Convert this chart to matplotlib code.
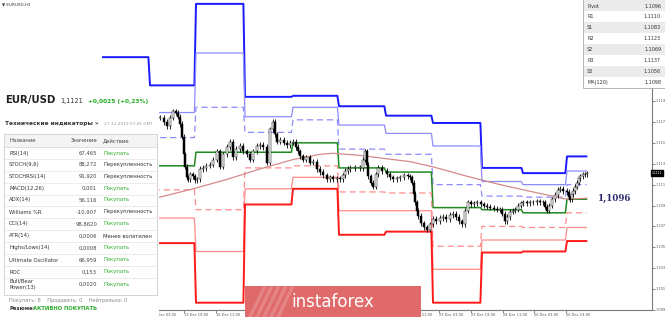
import matplotlib
matplotlib.use('Agg')
import matplotlib.pyplot as plt
from matplotlib.patches import Rectangle
from matplotlib.lines import Line2D
from matplotlib.transforms import ScaledTranslation

# ---------------- data ----------------
# candle closes (bar index, price)
candle_bar = [80, 82, 83.5, 85, 86.5, 88, 89, 90, 91, 92, 92.5, 93.5, 94, 95, 96.5, 97.5, 98.5,
              100, 101.5, 103, 105, 106.5, 108.5, 110, 111.5, 113.5, 115, 116.5, 118, 120, 121.5,
              123.5, 125, 126.5, 128.5, 130, 131.5, 133.5, 135, 136.5, 137.5, 138.5, 140, 142,
              143.5, 145, 146.5, 148, 149, 150, 151.5, 153, 155, 156.5, 158.5, 160, 161.5, 163.5,
              165, 166.5, 168.5, 170, 171.5, 172.5, 174, 175, 177.5, 180, 181.5, 182.5, 183.5, 184,
              185.5, 186.5, 188, 189, 191, 193.5, 195, 196.5, 198.5, 200, 202, 204, 205, 206, 207,
              207.5, 208.5, 209, 210.5, 212, 213.5, 215, 216.5, 218, 220, 221.5, 223, 225, 226.5,
              228, 229.5, 231, 232.5, 234, 235.5, 237, 238.5, 240.5, 242, 243.5, 245, 247, 248.5,
              250, 251, 252.5, 253.5, 255, 256.5, 257.5, 259, 260.5, 261.5, 263.5, 265, 266.5,
              268.5, 270, 271.5, 272.5, 273.5, 274.5, 276, 277.5, 279, 280, 281.5, 283.5, 284.5,
              285, 286, 286.5, 287.5, 288.5, 289.5, 290, 291.5, 292.5, 293.5]
candle_close = [1.1174, 1.1170, 1.1166, 1.1174, 1.1180, 1.1179, 1.1175, 1.1168, 1.1156, 1.1139,
                1.1127, 1.1117, 1.1115, 1.1120, 1.1118, 1.1114, 1.1115, 1.1125, 1.1126, 1.1128,
                1.1129, 1.1134, 1.1142, 1.1127, 1.1139, 1.1146, 1.1151, 1.1136, 1.1144, 1.1147,
                1.1142, 1.1139, 1.1134, 1.1142, 1.1147, 1.1148, 1.1146, 1.1131, 1.1163, 1.1170,
                1.1158, 1.1151, 1.1153, 1.1150, 1.1148, 1.1150, 1.1151, 1.1146, 1.1142, 1.1137,
                1.1134, 1.1136, 1.1131, 1.1132, 1.1125, 1.1122, 1.1119, 1.1115, 1.1117, 1.1115,
                1.1116, 1.1115, 1.1119, 1.1123, 1.1125, 1.1126, 1.1126, 1.1126, 1.1134, 1.1142,
                1.1129, 1.1118, 1.1112, 1.1108, 1.1120, 1.1126, 1.1123, 1.1120, 1.1117, 1.1115,
                1.1116, 1.1117, 1.1119, 1.1118, 1.1117, 1.1112, 1.1101, 1.1093, 1.1085, 1.1080,
                1.1073, 1.1069, 1.1067, 1.1072, 1.1077, 1.1075, 1.1078, 1.1079, 1.1077, 1.1081,
                1.1082, 1.1079, 1.1075, 1.1072, 1.1085, 1.1093, 1.1091, 1.1092, 1.1093, 1.1091,
                1.1090, 1.1089, 1.1088, 1.1087, 1.1086, 1.1086, 1.1082, 1.1075, 1.1079, 1.1084,
                1.1085, 1.1086, 1.1090, 1.1092, 1.1093, 1.1092, 1.1093, 1.1093, 1.1094, 1.1093,
                1.1093, 1.1089, 1.1085, 1.1090, 1.1096, 1.1100, 1.1105, 1.1106, 1.1104, 1.1103,
                1.1098, 1.1096, 1.1101, 1.1104, 1.1108, 1.1112, 1.1116, 1.1118, 1.1120, 1.1120,
                1.1121]

# daily pivot levels: day start bars (last entry = end of drawing)
day_bars = [51.5, 75, 98, 122.5, 146.5, 169.5, 193, 216.5, 241, 261.5, 283.5, 294]
r3_vals = [1.1232, 1.1205, 1.1283, 1.1194, 1.1195, 1.1185, 1.1176, 1.1169, 1.1126, 1.1121, 1.1137]
r2_vals = [1.1189, 1.1179, 1.1236, 1.1175, 1.1184, 1.1167, 1.1159, 1.1147, 1.1113, 1.1110, 1.1123]
r1_vals = [1.1159, 1.1155, 1.1184, 1.1160, 1.1172, 1.1144, 1.1139, 1.1110, 1.1099, 1.1098, 1.1110]
p_vals = [1.1115, 1.1128, 1.1141, 1.1141, 1.1150, 1.1126, 1.1122, 1.1088, 1.1086, 1.1083, 1.1096]
s1_vals = [1.1085, 1.1105, 1.1086, 1.1126, 1.1128, 1.1103, 1.1102, 1.1051, 1.1070, 1.1069, 1.1083]
s2_vals = [1.1041, 1.1078, 1.1046, 1.1106, 1.1117, 1.1085, 1.1085, 1.1029, 1.1057, 1.1057, 1.1069]
s3_vals = [1.1011, 1.1054, 1.0997, 1.1091, 1.1106, 1.1062, 1.1065, 1.0997, 1.1045, 1.1046, 1.1056]

ma_bar = [50, 80, 96.5, 113.5, 130, 146.5, 160, 166.5, 180, 196.5, 205, 216.5, 233.5, 250, 266.5, 283.5, 293.5]
ma_val = [1.1084, 1.1098, 1.1106, 1.1115, 1.1125, 1.1134, 1.1139, 1.1140, 1.1138, 1.1134, 1.1132,
          1.1127, 1.1118, 1.1110, 1.1103, 1.1096, 1.1097]

y_ticks = [1.099, 1.101, 1.103, 1.105, 1.107, 1.109, 1.111, 1.113, 1.115, 1.117, 1.119]
x_tick_bars = [76, 92, 108, 124, 140, 156, 172, 188, 204, 219.5, 235.5, 251.5, 267, 283]
x_tick_labels = ['13 Dec 03:00', '13 Dec 19:00', '16 Dec 11:00', '17 Dec 03:00', '17 Dec 19:00',
                 '18 Dec 11:00', '19 Dec 03:00', '19 Dec 19:00', '20 Dec 11:00', '23 Dec 03:00',
                 '23 Dec 19:00', '24 Dec 11:00', '26 Dec 03:00', '26 Dec 19:00']

pivot_names = ['Pivot', 'R1', 'S1', 'R2', 'S2', 'R3', 'S3', 'MA(120)']
pivot_values = ['1.1096', '1.1110', '1.1083', '1.1123', '1.1069', '1.1137', '1.1056', '1.1098']

ind_names = ['RSI(14)', 'STOCH(9,6)', 'STOCHRSI(14)', 'MACD(12,26)', 'ADX(14)', 'Williams %R',
             'CCI(14)', 'ATR(14)', 'Highs/Lows(14)', 'Ultimate Oscillator', 'ROC', 'Bull/Bear\nPower(13)']
ind_values = ['67,465', '88,272', '91,920', '0,001', '56,116', '-10,907', '98,8620', '0,0006',
              '0,0008', '66,959', '0,153', '0,0020']
ind_actions = ['Покупать', 'Перекупленность', 'Перекупленность', 'Покупать', 'Покупать',
               'Перекупленность', 'Покупать', 'Менее волатилен', 'Покупать', 'Покупать',
               'Покупать', 'Покупать']

# ---------------- figure ----------------
W, H = 665, 317
fig = plt.figure(figsize=(W / 100, H / 100), dpi=100)
fig.patch.set_facecolor('white')


def fx(x):
    return x / W


def fy(y):
    return 1 - y / H


ax = fig.add_axes([0, 7 / H, 652 / W, 310 / H])
ax.set_xlim(0, 326)
ax.set_ylim(1.09911, 1.12867)
ax.set_facecolor('white')
for s in ['top', 'left']:
    ax.spines[s].set_visible(False)
for s in ['right', 'bottom']:
    ax.spines[s].set_color('#7a7a7a')
    ax.spines[s].set_linewidth(0.8)
ax.spines['right'].set_bounds(1.09911, 1.1205)
ax.yaxis.tick_right()
ax.set_yticks(y_ticks)
ax.set_yticklabels([f'{v:.3f}' for v in y_ticks], fontsize=2.5, color='#333333', va='center')
for lab in ax.get_yticklabels():
    lab.set_transform(lab.get_transform() + ScaledTranslation(0, 0.05, fig.dpi_scale_trans))
ax.tick_params(axis='y', length=2, width=0.5, pad=0.6, colors='#555555')
ax.set_xticks(x_tick_bars)
ax.set_xticklabels(x_tick_labels, fontsize=2.6, color='#333333', ha='left')
ax.tick_params(axis='x', length=2, width=0.5, pad=0.5, colors='#555555')


def step_line(vals, **kw):
    xs, ys = [], []
    for i, v in enumerate(vals):
        xs += [day_bars[i], day_bars[i + 1] - 0.8]
        ys += [v, v]
    ax.plot(xs, ys, **kw)


step_line(r3_vals, color='#1a1aff', lw=1.4)
step_line(r2_vals, color='#8c8cff', lw=0.9)
step_line(r1_vals, color='#8c8cff', lw=0.9, ls=(0, (5, 3)))
step_line(p_vals, color='#1f8a1f', lw=1.1)
step_line(s1_vals, color='#ff8c8c', lw=0.9, ls=(0, (5, 3)))
step_line(s2_vals, color='#ff8c8c', lw=0.9)
step_line(s3_vals, color='#ff1a1a', lw=1.4)
ax.plot(ma_bar, ma_val, color='#d48a8a', lw=0.9)

# candles
prev = candle_close[0]
for b, c in zip(candle_bar, candle_close):
    lo, hi = min(prev, c), max(prev, c)
    ax.vlines(b, lo - 0.00025, hi + 0.00025, color='black', lw=0.6, zorder=4)
    up = c >= prev
    ax.add_patch(Rectangle((b - 0.55, lo), 1.1, max(hi - lo, 0.00004),
                           facecolor='white' if up else 'black', edgecolor='black', lw=0.35, zorder=5))
    prev = c

# current price box
ax.text(1.0, candle_close[-1], '1.1121', transform=ax.get_yaxis_transform(), fontsize=2.2,
        color='white', va='center', ha='left',
        bbox=dict(boxstyle='square,pad=0.25', fc='black', ec='black'), zorder=10, clip_on=False)

fig.text(fx(598), fy(198), '1,1096', fontsize=6.2, fontweight='bold', family='DejaVu Serif',
         color='#2b2b6e', va='center', ha='left')

# ---- left panel ----
fig.add_artist(Rectangle((0, 0), fx(159), fy(93), transform=fig.transFigure,
                         facecolor='white', edgecolor='none', zorder=5))
fig.text(fx(2), fy(4), '▼ EURUSD,H1', fontsize=3.0, color='#333333', va='center', zorder=6)
fig.text(fx(5), fy(100), 'EUR/USD', fontsize=7.3, fontweight='bold', color='#222222', va='center', zorder=6)
fig.text(fx(60), fy(101), '1,1121', fontsize=4.8, color='#333333', va='center', zorder=6)
fig.text(fx(88), fy(101), '+0,0025 (+0,23%)', fontsize=4.2, color='#22aa22', fontweight='bold',
         va='center', zorder=6)
fig.text(fx(5), fy(124), 'Технические индикаторы »', fontsize=4.2, fontweight='bold',
         color='#333333', va='center', zorder=6)
fig.text(fx(104), fy(124), '27.12.2019 07:05 GMT', fontsize=3.1, color='#999999', va='center', zorder=6)
fig.add_artist(Rectangle((fx(4), fy(295)), fx(153), (295 - 134) / H, transform=fig.transFigure,
                         facecolor='white', edgecolor='#cccccc', lw=0.6, zorder=6))
fig.add_artist(Rectangle((fx(4), fy(147)), fx(153), 13 / H, transform=fig.transFigure,
                         facecolor='#f4f4f4', edgecolor='#cccccc', lw=0.4, zorder=6))
fig.text(fx(9), fy(141), 'Название', fontsize=3.8, color='#444444', va='center', zorder=7)
fig.text(fx(97), fy(141), 'Значение', fontsize=3.8, color='#444444', va='center', ha='right', zorder=7)
fig.text(fx(103), fy(141), 'Действие', fontsize=3.8, color='#444444', va='center', zorder=7)
row_y = [153, 164.5, 176.5, 188.5, 200, 212, 224, 236, 248, 260, 272, 284.5]
for i, (n, v, a) in enumerate(zip(ind_names, ind_values, ind_actions)):
    y = row_y[i]
    fig.text(fx(9), fy(y), n, fontsize=3.8, color='#333333', va='center', zorder=7, linespacing=1.4)
    fig.text(fx(97), fy(y), v, fontsize=3.8, color='#444444', va='center', ha='right', zorder=7)
    col = '#2aaa2a' if a == 'Покупать' else '#333333'
    fig.text(fx(103), fy(y), a, fontsize=3.8, color=col, va='center', zorder=7)
    if i < len(ind_names) - 1:
        ly = fy(y + 6)
        fig.add_artist(Line2D([fx(4), fx(157)], [ly, ly], transform=fig.transFigure,
                              color='#e4e4e4', lw=0.5, zorder=7))
fig.text(fx(9), fy(300), 'Покупать: 8    Продавать: 0    Нейтрально: 0', fontsize=3.6,
         color='#888888', va='center', zorder=7)
fig.text(fx(9), fy(309), 'Резюме:', fontsize=3.8, color='#333333', fontweight='bold', va='center', zorder=7)
fig.text(fx(33), fy(309), 'АКТИВНО ПОКУПАТЬ', fontsize=3.8, color='#2aaa2a', fontweight='bold',
         va='center', zorder=7)

# ---- pivot table (top right) ----
fig.add_artist(Rectangle((fx(583), fy(88)), fx(82), 88 / H, transform=fig.transFigure,
                         facecolor='white', edgecolor='#aaaaaa', lw=0.6, zorder=6))
for i, (n, v) in enumerate(zip(pivot_names, pivot_values)):
    yc = 6 + 10.9 * i
    if i % 2 == 0:
        fig.add_artist(Rectangle((fx(584), fy(yc + 5.4)), fx(81), 10.9 / H, transform=fig.transFigure,
                                 facecolor='#ebebeb', edgecolor='none', zorder=6))
    fig.text(fx(587), fy(yc), n, fontsize=3.5, color='#333333', va='center', zorder=7)
    fig.text(fx(661), fy(yc), v, fontsize=3.5, color='#333333', va='center', ha='right', zorder=7)

# ---- instaforex banner ----
fig.add_artist(Rectangle((fx(245), 0), fx(176), 31 / H, transform=fig.transFigure,
                         facecolor='#e06a6a', edgecolor='none', zorder=8))
for k in range(5):
    x0 = 250 + k * 7
    fig.add_artist(Line2D([fx(x0), fx(x0 + 14)], [fy(317), fy(288)], transform=fig.transFigure,
                          color='white', alpha=0.18, lw=2.5, zorder=8.5))
fig.text(fx(333), fy(302), 'instaforex', fontsize=12, color='white', ha='center', va='center', zorder=9)

fig.savefig('out.png', dpi=100)
